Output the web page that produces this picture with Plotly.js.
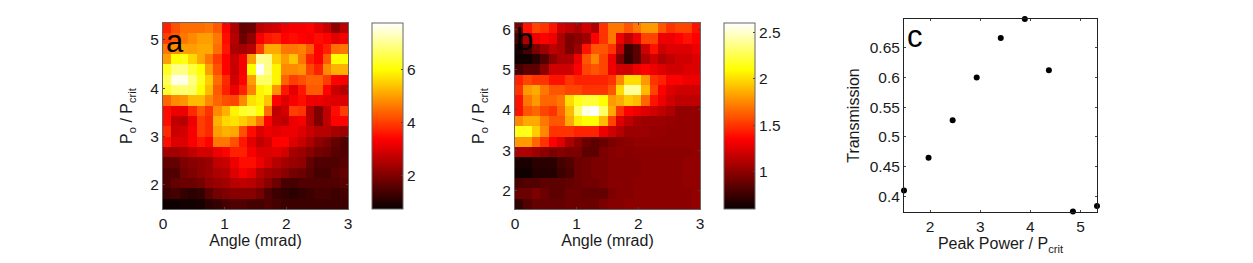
<!DOCTYPE html>
<html><head><meta charset="utf-8">
<script src="https://cdn.plot.ly/plotly-3.0.1.min.js"></script>
<style>html,body{margin:0;padding:0;background:#fff}</style></head>
<body><div id="plot" style="width:1253px;height:263px"></div>
<script>
// Rows listed top of picture first
const gridA = [
[3.7,4.2,4.5,4.5,4.5,4.6,4.3,3.4,2.5,1.7,1.8,2.6,2.8,2.9,3.2,3.3,3.3,3.4,3.1,2.8,2.2,2.6],
[4.0,4.3,4.6,4.8,5.0,5.0,4.6,3.5,2.6,1.8,2.2,3.3,3.6,3.7,3.4,3.5,3.4,3.3,3.5,3.4,3.1,3.3],
[4.6,4.8,5.0,5.0,5.1,5.1,4.5,3.6,2.5,2.4,2.6,4.0,5.1,5.1,4.6,4.6,4.7,4.3,3.4,3.7,4.5,4.6],
[5.0,6.0,6.1,5.6,5.1,4.6,4.0,3.4,2.8,3.3,5.0,7.0,6.9,5.5,5.0,5.4,4.6,3.7,3.4,4.3,6.0,6.0],
[6.2,6.9,6.9,6.4,6.0,5.0,4.2,3.4,2.8,3.3,6.0,7.7,6.9,5.9,4.8,4.8,4.9,4.1,3.7,4.8,5.2,5.2],
[6.6,7.6,7.6,6.9,6.2,5.5,4.5,3.8,2.9,3.4,5.0,6.7,6.7,5.9,4.4,4.0,4.2,4.4,4.4,4.0,3.4,3.3],
[6.3,6.7,6.8,6.7,6.0,5.3,4.3,3.7,3.2,3.7,4.7,5.9,6.1,4.9,3.6,3.1,3.6,4.3,4.3,3.4,2.8,2.6],
[4.4,4.8,4.9,5.3,5.3,4.8,4.4,4.2,4.1,4.8,5.7,5.9,5.4,3.4,3.0,3.3,3.5,3.2,3.2,3.1,3.0,3.0],
[3.5,3.2,3.2,3.8,4.3,3.9,4.8,5.2,5.9,6.3,6.4,6.0,4.5,2.7,2.9,4.0,3.9,2.6,2.0,2.7,3.5,4.0],
[3.5,2.7,2.6,3.2,4.0,3.8,5.2,5.6,5.7,5.5,5.2,4.6,3.4,2.8,2.7,3.2,3.3,2.6,2.0,2.7,3.4,3.4],
[3.8,2.8,2.9,3.3,4.0,3.8,5.0,5.2,5.1,4.2,3.5,3.0,3.2,3.1,3.2,3.2,3.0,2.8,2.6,2.6,2.4,2.3],
[3.5,3.0,3.0,3.3,3.6,3.4,4.6,4.6,4.2,3.6,3.1,2.7,2.9,3.4,3.4,3.0,2.8,2.5,2.2,2.0,1.7,1.5],
[2.4,2.4,2.5,2.7,2.9,2.9,3.2,3.4,3.7,3.7,3.3,3.0,3.0,3.1,2.9,2.4,2.3,2.1,1.9,1.8,1.6,1.5],
[1.7,1.7,2.0,2.1,2.2,2.3,2.7,2.8,3.2,3.5,3.5,3.2,2.9,2.6,2.4,2.3,2.2,1.7,1.5,1.5,1.5,1.6],
[1.5,1.5,1.9,2.0,2.2,2.3,2.5,2.6,3.0,3.3,3.1,2.6,2.4,2.3,2.1,1.9,1.8,1.6,1.4,1.4,1.6,1.7],
[1.5,1.7,1.8,1.8,1.9,2.2,2.3,2.4,2.6,2.7,2.6,2.4,2.1,1.8,1.4,1.4,1.5,1.5,1.5,1.5,1.5,1.6],
[1.3,1.4,1.2,1.1,1.2,1.6,1.9,2.0,2.1,2.1,2.1,1.9,1.5,1.3,1.2,1.1,1.2,1.3,1.4,1.4,1.3,1.4],
[0.8,0.8,0.85,0.85,0.9,1.1,1.2,1.4,1.5,1.5,1.4,1.4,1.5,1.4,1.3,1.3,1.3,1.3,1.3,1.3,1.3,1.3]
];
const gridB = [
[0.95,1.4,1.55,1.5,1.4,1.2,1.15,1.1,1.2,1.1,1.5,1.7,1.7,1.6,1.7,1.8,1.8,1.6,1.5,1.55,1.55,1.4],
[0.8,1.1,1.3,1.35,1.3,1.1,0.95,1.0,1.05,1.35,1.5,1.7,1.3,1.15,1.3,1.55,1.55,1.3,1.3,1.35,1.4,1.35],
[0.65,0.8,0.95,1.05,1.15,1.1,0.95,1.05,1.4,1.6,1.6,1.5,1.15,0.75,0.85,1.2,1.4,1.2,1.25,1.25,1.25,1.3],
[0.62,0.62,0.7,0.82,1.0,1.1,1.1,1.3,1.6,1.75,1.55,1.3,0.95,0.72,0.85,1.1,1.2,1.1,1.15,1.2,1.2,1.25],
[0.78,0.85,0.85,1.0,1.2,1.2,1.2,1.35,1.55,1.6,1.55,1.3,1.2,1.2,1.3,1.35,1.3,1.25,1.2,1.2,1.25,1.25],
[1.45,1.55,1.5,1.5,1.4,1.4,1.5,1.45,1.45,1.45,1.45,1.5,1.75,2.0,2.0,1.8,1.5,1.45,1.35,1.35,1.3,1.3],
[1.5,1.8,1.85,1.7,1.6,1.6,1.55,1.55,1.5,1.5,1.5,1.6,2.0,2.4,2.4,1.9,1.55,1.35,1.25,1.2,1.2,1.2],
[1.4,1.7,1.8,1.65,1.65,1.7,2.0,2.15,2.2,2.2,2.1,1.8,1.85,1.95,1.9,1.65,1.4,1.3,1.2,1.15,1.15,1.15],
[1.4,1.6,1.65,1.55,1.5,1.65,1.9,2.3,2.55,2.6,2.3,1.85,1.5,1.35,1.3,1.25,1.2,1.15,1.1,1.02,1.02,1.02],
[1.75,1.85,1.85,1.7,1.6,1.6,1.85,2.05,2.1,2.1,1.9,1.55,1.25,1.15,1.08,1.05,1.05,1.05,1.03,1.02,1.02,1.02],
[2.15,2.15,1.95,1.75,1.5,1.5,1.5,1.45,1.45,1.45,1.3,1.2,1.12,1.05,1.05,1.05,1.03,1.03,1.02,1.02,1.02,1.02],
[1.8,1.8,1.65,1.5,1.35,1.25,1.1,1.0,0.9,0.85,0.9,0.95,0.98,1.0,1.02,1.02,1.02,1.02,1.02,1.02,1.02,1.02],
[1.1,1.1,1.05,1.0,0.95,0.98,0.95,0.95,0.85,0.85,0.95,0.98,1.0,0.98,1.0,1.0,1.0,1.0,1.0,1.0,1.0,1.02],
[0.65,0.65,0.7,0.7,0.7,0.78,0.82,0.9,0.92,0.95,0.95,0.98,0.98,0.98,0.98,1.0,1.0,1.0,1.0,1.0,1.02,1.02],
[0.62,0.62,0.68,0.68,0.68,0.75,0.8,0.9,0.92,0.95,0.95,0.98,0.98,0.98,0.98,1.0,1.0,1.0,1.0,1.0,1.02,1.02],
[0.8,0.82,0.82,0.85,0.85,0.85,0.88,0.9,0.92,0.92,0.95,0.98,0.98,0.98,1.0,1.0,1.0,1.0,1.0,1.0,1.02,1.02],
[0.9,0.9,0.95,0.9,0.85,0.85,0.9,0.9,0.88,0.88,0.88,0.95,0.98,0.98,1.0,1.0,1.0,1.0,1.0,1.0,1.0,1.02],
[0.72,0.82,0.88,0.88,0.88,0.88,0.9,0.9,0.9,0.9,0.95,0.98,0.98,1.0,1.0,1.0,1.0,1.0,1.0,1.0,1.0,1.02]
];
const peakPower = [1.48,1.97,2.45,2.93,3.41,3.89,4.37,4.85,5.33];
const transmission = [0.41,0.465,0.528,0.6,0.666,0.698,0.612,0.375,0.384];
const barTicksA=[2,4,6], barLabelsA=['2','4','6'];
const barTicksB=[1,1.5,2,2.5], barLabelsB=['1','1.5','2','2.5'];

const W=1253,H=263,font='"Liberation Sans",Arial,sans-serif',ink='#1a1a1a';
const hot=[[0,'#0a0000'],[0.375,'#ff0000'],[0.75,'#ffff00'],[1,'#ffffff']];
const fx=p=>p/W, fy=p=>1-p/H;
const tickF={family:font,size:15.5,color:ink}, tf={family:font,size:16,color:ink};
function axis(d,extra){return Object.assign({domain:d,showgrid:false,zeroline:false,showline:true,mirror:'ticks',
  linecolor:'#666',linewidth:1,ticks:'inside',ticklen:2,tickcolor:'#444',tickfont:tickF,automargin:false},extra);}
function cbar(x,vals,txt){return {x:x/W,xanchor:'left',y:1-209/H,yanchor:'bottom',lenmode:'pixels',len:186,
  thicknessmode:'pixels',thickness:31,outlinecolor:'#666',outlinewidth:1,ticks:'inside',ticklen:2,tickcolor:'#444',
  tickvals:vals,ticktext:txt,tickfont:tickF,xpad:0,ypad:0};}
function heat(grid,xa,ya,y0,y1,zmin,zmax,bar){const g=grid.slice().reverse();const nx=g[0].length,ny=g.length;
  return {type:'heatmap',z:g,x0:3/nx/2,dx:3/nx,y0:y0+(y1-y0)/ny/2,dy:(y1-y0)/ny,xaxis:xa,yaxis:ya,
    colorscale:hot,zmin,zmax,zsmooth:false,colorbar:bar,hoverinfo:'skip'};}
const data=[
 heat(gridA,'x','y',1.5,5.35,0.75,7.75,cbar(372,barTicksA,barLabelsA)),
 heat(gridB,'x2','y2',1.55,6.15,0.6,2.6,cbar(724,barTicksB,barLabelsB)),
 {type:'scatter',mode:'markers',x:peakPower,y:transmission,xaxis:'x3',yaxis:'y3',cliponaxis:false,
  marker:{color:'#000',size:6},hoverinfo:'skip'}
];
const yT='P<sub>o</sub> / P<sub>crit</sub>';
// left-side colourbar ticks, placed from the tick values
function barLeft(x,ticks,zmin,zmax){return ticks.map(v=>{const p=209-(v-zmin)/(zmax-zmin)*186;
  return {type:'line',xref:'paper',yref:'paper',x0:fx(x),x1:fx(x+2),y0:fy(p),y1:fy(p),line:{color:'#444',width:1}};});}
const layout={width:W,height:H,margin:{l:0,r:0,t:0,b:0,pad:0,autoexpand:false},paper_bgcolor:'#fff',plot_bgcolor:'#fff',showlegend:false,
 xaxis:axis([fx(163),fx(348)],{range:[0,3],tickvals:[0,1,2,3],title:{text:'Angle (mrad)',font:tf,standoff:4},anchor:'y'}),
 yaxis:axis([fy(209),fy(23)],{range:[1.5,5.35],tickvals:[2,3,4,5],title:{text:yT,font:tf,standoff:13},anchor:'x'}),
 xaxis2:axis([fx(515),fx(700)],{range:[0,3],tickvals:[0,1,2,3],title:{text:'Angle (mrad)',font:tf,standoff:4},anchor:'y2'}),
 yaxis2:axis([fy(209),fy(23)],{range:[1.55,6.15],tickvals:[2,3,4,5,6],title:{text:yT,font:tf,standoff:13},anchor:'x2'}),
 xaxis3:axis([fx(904),fx(1097)],{range:[1.48,5.33],tickvals:[2,3,4,5],title:{text:'Peak Power / P<sub>crit</sub>',font:tf,standoff:4},anchor:'y3',linecolor:'#222'}),
 yaxis3:axis([fy(212),fy(19)],{range:[0.374,0.698],tickvals:[0.4,0.45,0.5,0.55,0.6,0.65],ticktext:['0.4','0.45','0.5','0.55','0.6','0.65'],title:{text:'Transmission',font:tf,standoff:6},anchor:'x3',linecolor:'#222'}),
 shapes:barLeft(372,barTicksA,0.75,7.75).concat(barLeft(724,barTicksB,0.6,2.6)),
 annotations:[
  {text:'a',xref:'paper',yref:'paper',x:fx(164),y:fy(41),xanchor:'left',yanchor:'middle',showarrow:false,font:{family:font,size:31,color:'#000'}},
  {text:'b',xref:'paper',yref:'paper',x:fx(514),y:fy(40),xanchor:'left',yanchor:'middle',showarrow:false,font:{family:font,size:31,color:'#000'}},
  {text:'c',xref:'paper',yref:'paper',x:fx(905),y:fy(37),xanchor:'left',yanchor:'middle',showarrow:false,font:{family:font,size:31,color:'#000'}}
 ]};
Plotly.newPlot('plot',data,layout,{displayModeBar:false,staticPlot:true});
</script></body></html>
